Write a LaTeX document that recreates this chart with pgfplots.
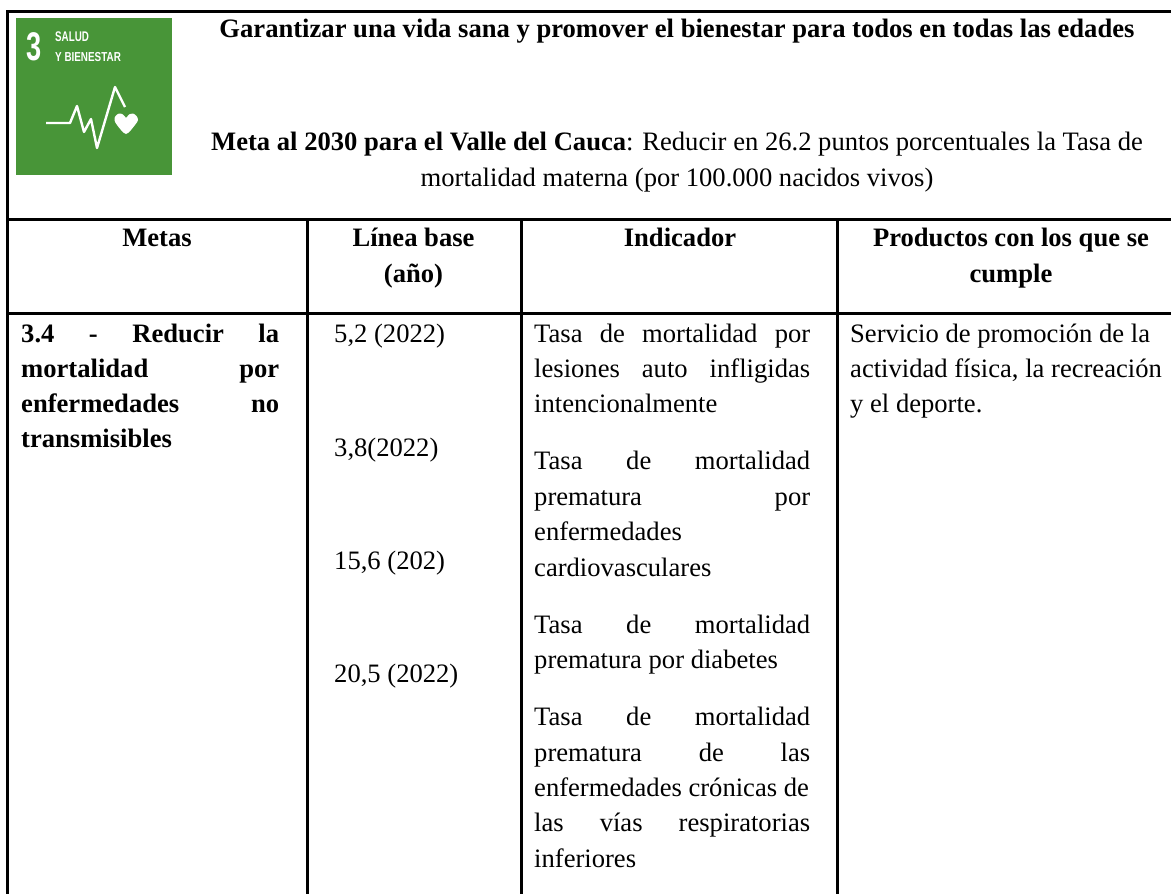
\documentclass[border=0pt]{standalone}
\usepackage{pgfplots}
\pgfplotsset{compat=1.18}
\usepackage{graphicx}
\usepackage{fontspec}
\setmainfont{Liberation Serif}
\setsansfont{Liberation Sans}
\definecolor{sdg}{HTML}{489538}
\newcommand{\fs}{\fontsize{26.6}{30}\selectfont}
\newcommand{\tl}[3]{\node[anchor=base west,inner sep=0pt,font=\fs] at (axis cs:#1,#2) {#3};}
\newcommand{\tc}[3]{\node[anchor=base,inner sep=0pt,font=\fs] at (axis cs:#1,#2) {#3};}
% justified line: x, baseline, width, content (with \hfill between the words)
\newcommand{\tj}[4]{\node[anchor=base west,inner sep=0pt,font=\fs] at (axis cs:#1,#2) {\makebox[#3][s]{#4}};}
\begin{document}
\begin{tikzpicture}[x=1pt,y=1pt]
\begin{axis}[
 at={(0,0)},anchor=south west,
 width=1171pt,height=894pt,scale only axis,
 xmin=0,xmax=1171,ymin=0,ymax=894,y dir=reverse,
 hide axis,clip=true]
\addplot[draw=none,fill=white,forget plot] coordinates {(0,0)(1171,0)(1171,894)(0,894)} -- cycle;
% table rules
\addplot[black,line width=3pt] coordinates {(7.5,894)(7.5,11.5)(1171,11.5)};
\addplot[black,line width=3pt] coordinates {(7.5,219)(1171,219)};
\addplot[black,line width=3pt] coordinates {(7.5,313)(1171,313)};
\addplot[black,line width=3pt] coordinates {(307,219)(307,894)};
\addplot[black,line width=3pt] coordinates {(521,219)(521,894)};
\addplot[black,line width=3pt] coordinates {(837,219)(837,894)};
% logo
\addplot[draw=none,fill=sdg] coordinates {(16,18)(172,18)(172,175)(16,175)} -- cycle;
\addplot[white,line width=2.4pt,line join=round] coordinates {(46,123)(70,123)(77,106)(84,132)(91,119)(97,148)(115,87)(125,107)};
\addplot[draw=none,fill=white,smooth] coordinates {(126,118)(123,114.5)(119,113.5)(115.5,116)(114.5,120)(117,125)(126,134)(135,125)(138,120)(136.5,116)(133,113.5)(129,114.5)} -- cycle;
\node[anchor=base west,inner sep=0pt,text=white,font=\sffamily\bfseries\fontsize{40}{40}\selectfont] at (axis cs:26.5,60) {\scalebox{.68}[1]{3}};
\node[anchor=base west,inner sep=0pt,text=white,font=\sffamily\bfseries\fontsize{14}{14}\selectfont] at (axis cs:55,41) {\scalebox{.7}[1]{SALUD}};
\node[anchor=base west,inner sep=0pt,text=white,font=\sffamily\bfseries\fontsize{13}{14}\selectfont] at (axis cs:55,61) {\scalebox{.76}[1]{Y BIENESTAR}};
% header
\tc{677}{37}{\textbf{Garantizar una vida sana y promover el bienestar para todos en todas las edades}}
\tc{677}{150}{\textbf{Meta al 2030 para el Valle del Cauca}: Reducir en 26.2 puntos porcentuales la Tasa de}
\tc{677}{186.5}{mortalidad materna (por 100.000 nacidos vivos)}
\tc{157}{246}{\textbf{Metas}}
\tc{413.5}{246}{\textbf{Línea base}}
\tc{413.5}{282}{\textbf{(año)}}
\tc{680}{246}{\textbf{Indicador}}
\tc{1011}{246}{\textbf{Productos con los que se}}
\tc{1011}{282}{\textbf{cumple}}
% col 1
\tj{21}{342}{258pt}{\textbf{3.4}\hfill\textbf{-}\hfill\textbf{Reducir}\hfill\textbf{la}}
\tj{21}{377}{258pt}{\textbf{mortalidad}\hfill\textbf{por}}
\tj{21}{412}{258pt}{\textbf{enfermedades}\hfill\textbf{no}}
\tl{21}{447}{\textbf{transmisibles}}
% col 2
\tl{334}{342}{5,2 (2022)}
\tl{334}{456}{3,8(2022)}
\tl{334}{569}{15,6 (202)}
\tl{334}{682}{20,5 (2022)}
% col 3
\tj{534}{342}{276pt}{Tasa\hfill de\hfill mortalidad\hfill por}
\tj{534}{377}{276pt}{lesiones\hfill auto\hfill infligidas}
\tl{534}{412}{intencionalmente}
\tj{534}{469}{276pt}{Tasa\hfill de\hfill mortalidad}
\tj{534}{505}{276pt}{prematura\hfill por}
\tl{534}{540}{enfermedades}
\tl{534}{576}{cardiovasculares}
\tj{534}{633}{276pt}{Tasa\hfill de\hfill mortalidad}
\tl{534}{668}{prematura por diabetes}
\tj{534}{725}{276pt}{Tasa\hfill de\hfill mortalidad}
\tj{534}{761}{276pt}{prematura\hfill de\hfill las}
\tl{534}{796}{enfermedades crónicas de}
\tj{534}{831}{276pt}{las\hfill vías\hfill respiratorias}
\tl{534}{867}{inferiores}
% col 4
\tl{850}{342}{Servicio de promoción de la}
\tl{850}{377}{actividad física, la recreación}
\tl{850}{412}{y el deporte.}
\end{axis}
\end{tikzpicture}
\end{document}
